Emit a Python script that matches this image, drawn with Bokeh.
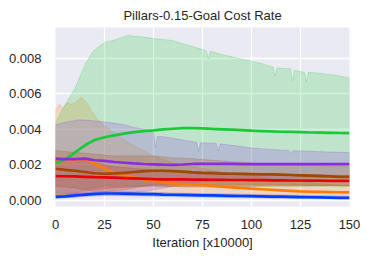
from bokeh.plotting import figure
from bokeh.models import FixedTicker, PrintfTickFormatter, Range1d
from bokeh.embed import file_html
from bokeh.resources import INLINE

# ---- data ----
x = [0, 5, 10, 15, 20, 25, 30, 35, 40, 45, 50, 55, 60, 65, 70, 75, 80, 85, 90, 95, 100,
     105, 110, 115, 120, 125, 130, 135, 140, 145, 150]

blue_mean = [0.0002, 0.00023, 0.00028, 0.00033, 0.00037, 0.00039, 0.00039, 0.00038, 0.00037, 0.00036,
             0.00035, 0.00033, 0.00032, 0.00031, 0.0003, 0.00029, 0.00028, 0.00027, 0.00026, 0.00025,
             0.00024, 0.00023, 0.00022, 0.00021, 0.0002, 0.00019, 0.00018, 0.00017, 0.00016, 0.00015, 0.00015]
blue_lo = [0.00012, 0.00014, 0.00018, 0.00022, 0.00026, 0.00028, 0.00028, 0.00027, 0.00026, 0.00025,
           0.00024, 0.00023, 0.00022, 0.00021, 0.0002, 0.00019, 0.00018, 0.00017, 0.00016, 0.00015,
           0.00015, 0.00014, 0.00013, 0.00013, 0.00012, 0.00012, 0.00011, 0.00011, 0.0001, 0.0001, 0.0001]
blue_hi = [0.00028, 0.00032, 0.00038, 0.00044, 0.00048, 0.0005, 0.0005, 0.00049, 0.00048, 0.00047,
           0.00046, 0.00044, 0.00042, 0.00041, 0.0004, 0.00039, 0.00038, 0.00037, 0.00036, 0.00035,
           0.00034, 0.00033, 0.00032, 0.00031, 0.0003, 0.00029, 0.00028, 0.00027, 0.00026, 0.00025, 0.00024]

orange_mean = [0.00222, 0.00222, 0.00224, 0.00232, 0.00206, 0.00178, 0.00155, 0.0014, 0.0013, 0.0012,
               0.0011, 0.00102, 0.00096, 0.00092, 0.00089, 0.00087, 0.00082, 0.00078, 0.00074, 0.0007,
               0.00066, 0.00063, 0.0006, 0.00057, 0.00054, 0.00051, 0.00049, 0.00048, 0.00047, 0.00046, 0.00045]
orange_lo = [0.0002, 0.0002, 0.0002, 0.00025, 0.0003, 0.0003, 0.0003, 0.0003, 0.0003, 0.0003,
             0.0003, 0.0003, 0.0003, 0.00028, 0.00027, 0.00026, 0.00025, 0.00024, 0.00023, 0.00022,
             0.00022, 0.00021, 0.0002, 0.0002, 0.0002, 0.00019, 0.00018, 0.00018, 0.00017, 0.00016, 0.00015]
orange_hi_x = [0, 2, 4, 6, 8, 10, 13, 16, 18, 21, 25, 30, 35, 40, 45, 50, 55, 60, 70, 80, 90, 100,
               110, 120, 130, 140, 150]
orange_hi = [0.0051, 0.0054, 0.0052, 0.0055, 0.0054, 0.0055, 0.0058, 0.0055, 0.0051, 0.0046, 0.0042,
             0.0038, 0.0034, 0.0031, 0.0028, 0.0025, 0.0023, 0.0021, 0.0019, 0.0017, 0.0015, 0.0014,
             0.0012, 0.0011, 0.001, 0.0009, 0.00085]

green_mean = [0.0021, 0.0023, 0.0027, 0.0031, 0.0034, 0.00355, 0.00366, 0.00376, 0.00384, 0.0039,
              0.00394, 0.00399, 0.00403, 0.00406, 0.00407, 0.00405, 0.00402, 0.004, 0.00398, 0.00395,
              0.00392, 0.0039, 0.00388, 0.00386, 0.00385, 0.00384, 0.00382, 0.00381, 0.0038, 0.00379, 0.00378]
green_lo = [0.0002, 0.0003, 0.0004, 0.0006, 0.0007, 0.0008, 0.0008, 0.0008, 0.0008, 0.0008,
            0.0008, 0.0008, 0.0008, 0.0008, 0.0008, 0.0008, 0.0008, 0.0008, 0.0008, 0.0008,
            0.0008, 0.0008, 0.0008, 0.0008, 0.0008, 0.0008, 0.0008, 0.0008, 0.0008, 0.0008, 0.0008]
green_hi_x = [0, 5, 10, 13, 15, 18, 20, 25, 30, 37, 45, 50, 55, 60, 65, 70, 77, 78, 79, 85, 95, 105,
              111, 112, 113, 120, 121, 122, 127, 128, 129, 135, 140, 145, 150]
green_hi = [0.00435, 0.0054, 0.0063, 0.0071, 0.0076, 0.0082, 0.00847, 0.00888, 0.00902, 0.00927,
            0.00918, 0.0091, 0.00905, 0.00898, 0.0088, 0.00865, 0.00842, 0.00795, 0.0084, 0.0082,
            0.00795, 0.0077, 0.0075, 0.0070, 0.00745, 0.0074, 0.00672, 0.00732, 0.0072, 0.00666,
            0.0072, 0.00715, 0.00707, 0.007, 0.0069]

red_mean = [0.00137, 0.00136, 0.00135, 0.00133, 0.00131, 0.0013, 0.00128, 0.00126, 0.00124, 0.00122,
            0.0012, 0.00119, 0.00118, 0.00118, 0.00117, 0.00117, 0.00116, 0.00116, 0.00115, 0.00115,
            0.00114, 0.00114, 0.00113, 0.00113, 0.00112, 0.00112, 0.00111, 0.00111, 0.0011, 0.0011, 0.0011]
red_lo = [0.0003, 0.00035, 0.0004, 0.0005, 0.0006, 0.00065, 0.0007, 0.00074, 0.00078, 0.0008,
          0.00082, 0.0008, 0.00078, 0.00076, 0.00075, 0.00075, 0.00076, 0.00078, 0.0008, 0.0008,
          0.0008, 0.00081, 0.00082, 0.00082, 0.00083, 0.00083, 0.00084, 0.00084, 0.00085, 0.00085, 0.00085]
red_hi = [0.0024, 0.00235, 0.0023, 0.0022, 0.0021, 0.002, 0.0019, 0.00185, 0.0018, 0.00175,
          0.0017, 0.00166, 0.00163, 0.00162, 0.0016, 0.00158, 0.00163, 0.00158, 0.00156, 0.00154,
          0.0015, 0.00152, 0.00148, 0.00147, 0.00146, 0.00145, 0.00144, 0.00146, 0.00142, 0.00141, 0.0014]

purple_mean = [0.00234, 0.00232, 0.00232, 0.00235, 0.00226, 0.00222, 0.00216, 0.00212, 0.00208, 0.00205,
               0.00203, 0.00201, 0.002, 0.00202, 0.00205, 0.00206, 0.00206, 0.00205, 0.00205, 0.00204,
               0.00204, 0.00204, 0.00204, 0.00204, 0.00204, 0.00204, 0.00204, 0.00204, 0.00204, 0.00204, 0.00204]
purple_lo = [0.0004, 0.0004, 0.0004, 0.0004, 0.0004, 0.0004, 0.0004, 0.0004, 0.00045, 0.0005,
             0.0006, 0.0007, 0.0008, 0.0009, 0.001, 0.00105, 0.0011, 0.0011, 0.00112, 0.00114,
             0.00115, 0.00118, 0.0012, 0.00122, 0.00124, 0.00126, 0.00128, 0.0013, 0.00132, 0.00134, 0.00136]
purple_hi_x = [0, 5, 12, 18, 23, 30, 35, 40, 45, 48, 50, 51, 52, 55, 60, 65, 70, 72, 73, 74, 80, 82,
               83, 84, 90, 100, 110, 119, 120, 121, 130, 140, 150]
purple_hi = [0.00426, 0.0044, 0.00453, 0.0045, 0.00444, 0.00435, 0.00426, 0.0041, 0.004, 0.0039,
             0.0038, 0.00298, 0.0036, 0.00358, 0.0035, 0.0034, 0.0033, 0.00327, 0.00277, 0.00324,
             0.00322, 0.0032, 0.00277, 0.00318, 0.0031, 0.00295, 0.00287, 0.00281, 0.0026, 0.0028,
             0.00276, 0.00272, 0.00269]

brown_mean = [0.00178, 0.00172, 0.00167, 0.0016, 0.00153, 0.0015, 0.00152, 0.00155, 0.0016, 0.00165,
              0.00167, 0.00167, 0.00165, 0.00162, 0.00158, 0.00155, 0.00153, 0.00151, 0.0015, 0.00149,
              0.00148, 0.00147, 0.00146, 0.00145, 0.00143, 0.00141, 0.00139, 0.00137, 0.00135, 0.00133, 0.00132]
brown_lo = [0.0008, 0.00075, 0.0007, 0.0006, 0.0005, 0.0005, 0.00055, 0.0006, 0.0007, 0.0008,
            0.0009, 0.0009, 0.0009, 0.0009, 0.0009, 0.0009, 0.0009, 0.0009, 0.0009, 0.0009,
            0.0009, 0.0009, 0.0009, 0.0009, 0.00088, 0.00087, 0.00086, 0.00085, 0.00084, 0.00082, 0.0008]
brown_hi = [0.0028, 0.00275, 0.0027, 0.00265, 0.0026, 0.00255, 0.0025, 0.0025, 0.0025, 0.0025,
            0.0025, 0.00245, 0.0024, 0.00238, 0.00235, 0.0023, 0.00226, 0.00222, 0.00218, 0.00215,
            0.0021, 0.00207, 0.00205, 0.00203, 0.00202, 0.002, 0.00198, 0.00196, 0.00194, 0.00192, 0.0019]

x_ticks = [0, 25, 50, 75, 100, 125, 150]
y_ticks = [0.0, 0.002, 0.004, 0.006, 0.008]

series = [
    ("#023EFF", blue_mean, x, blue_lo, x, blue_hi),
    ("#FF7C00", orange_mean, x, orange_lo, orange_hi_x, orange_hi),
    ("#1AC938", green_mean, x, green_lo, green_hi_x, green_hi),
    ("#E8000B", red_mean, x, red_lo, x, red_hi),
    ("#8B2BE2", purple_mean, x, purple_lo, purple_hi_x, purple_hi),
    ("#9F4800", brown_mean, x, brown_lo, x, brown_hi),
]

FONT = "Liberation Sans"
TXT = "#262626"

p = figure(width=369, height=259, output_backend="svg", toolbar_location=None,
           x_range=Range1d(0, 150), y_range=Range1d(-0.00034, 0.00972),
           title="Pillars-0.15-Goal Cost Rate",
           min_border_left=55, min_border_right=20, min_border_bottom=53, min_border_top=26)

p.background_fill_color = "#EAEAF2"
p.border_fill_color = "white"
p.outline_line_color = None

p.title.text_font = FONT
p.title.text_font_size = "13px"
p.title.text_font_style = "normal"
p.title.text_color = TXT
p.title.align = "center"
p.title.standoff = 10

for ax in (p.xaxis, p.yaxis):
    ax.axis_line_color = None
    ax.major_tick_line_color = None
    ax.minor_tick_line_color = None
    ax.major_tick_out = 0
    ax.major_tick_in = 0
    ax.major_label_text_font = FONT
    ax.major_label_text_font_size = "13px"
    ax.major_label_text_color = TXT

p.xaxis.ticker = FixedTicker(ticks=x_ticks)
p.yaxis.ticker = FixedTicker(ticks=y_ticks)
p.yaxis.formatter = PrintfTickFormatter(format="%.3f")
p.xaxis.major_label_standoff = 13
p.yaxis.major_label_standoff = 14
p.xaxis.axis_label = "Iteration [x10000]"
p.xaxis.axis_label_text_font = FONT
p.xaxis.axis_label_text_font_size = "13px"
p.xaxis.axis_label_text_font_style = "normal"
p.xaxis.axis_label_text_color = TXT
p.xaxis.axis_label_standoff = 3

p.xgrid.grid_line_color = "white"
p.ygrid.grid_line_color = "white"
p.xgrid.grid_line_width = 1.3
p.ygrid.grid_line_width = 1.3

# bands
for color, mean, lx, lo, hx, hi in series:
    xs = list(hx) + list(reversed(lx))
    ys = list(hi) + list(reversed(lo))
    p.patch(xs, ys, fill_color=color, fill_alpha=0.2, line_color=color, line_alpha=0.2, line_width=1)

# mean lines
for color, mean, lx, lo, hx, hi in series:
    p.line(x, mean, line_color=color, line_width=2.7)

open("out.html", "w").write(file_html(p, INLINE))
